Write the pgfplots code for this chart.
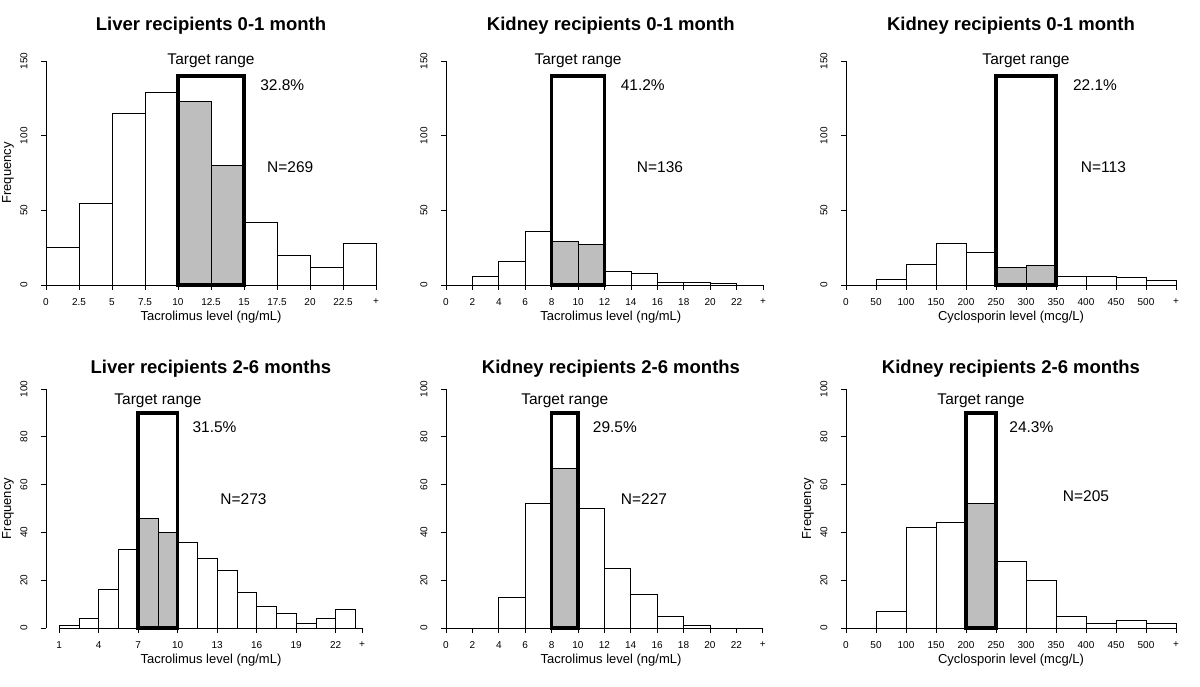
\documentclass[border=0pt]{standalone}
\usepackage{pgfplots}
\pgfplotsset{compat=1.18}
\usepackage{fontspec}
\setmainfont{Liberation Sans}
\definecolor{bargray}{HTML}{BEBEBE}

\tikzset{ann/.style={font=\fontsize{15.5}{18}\selectfont}}
\pgfplotsset{
  hist/.style={
    scale only axis, anchor=south west, clip=false,
    axis lines=left, axis line style={-, line width=0.7pt},
    xmin=0, ymin=0,
    tick align=outside, major tick length=5pt,
    every tick/.style={black, line width=0.7pt},
    tick label style={font=\fontsize{10}{12}\selectfont},
    xticklabel style={anchor=center, yshift=-12pt},
    yticklabel style={anchor=center, xshift=-17pt, rotate=90},
    /pgf/number format/assume math mode=true,
    title style={font=\bfseries\fontsize{18.5}{22}\selectfont, anchor=center},
    label style={font=\fontsize{13}{15}\selectfont},
  },
  toprow/.style={ymax=150, ytick={0,50,100,150}, width=#1, height=224pt,
    title style={at={([yshift=29pt]axis description cs:0.5,1)}}},
  botrow/.style={ymax=100, ytick={0,20,...,100}, width=#1, height=239pt,
    title style={at={([yshift=14pt]axis description cs:0.5,1)}}},
  xlab/.style={xlabel style={at={([yshift=-32pt]axis description cs:#1,0)}, anchor=center}},
  ylab/.style={ylabel style={at={([xshift=-38pt]axis description cs:0,0.5)}, anchor=center, rotate=0}},
  bars/.style={ybar, bar shift=0pt, bar width=#1, draw=black, line width=0.7pt, fill=white},
  tgt/.style={draw=black, line width=3.5pt, line join=miter, mark=none, sharp plot},
}

\begin{document}
\begin{tikzpicture}
\path[use as bounding box] (0,0) rectangle (1200pt,686pt);

% ---- Liver 0-1 month
\begin{axis}[hist, toprow=330pt, at={(46pt,401pt)},
  xmax=25, xtick={0,2.5,...,25},
  xticklabels={0,2.5,5,7.5,10,12.5,15,17.5,20,22.5,+},
  title={Liver recipients 0-1 month},
  xlabel={Tacrolimus level (ng/mL)}, xlab=0.5,
  ylabel={Frequency}, ylab]
\addplot[bars=2.5] coordinates {(1.25,25) (3.75,55) (6.25,115) (8.75,129)
  (16.25,42) (18.75,20) (21.25,12) (23.75,28)};
\addplot[bars=2.5, fill=bargray] coordinates {(11.25,123) (13.75,80)};
\addplot[tgt] coordinates {(10,0) (10,140) (15,140) (15,0)} \closedcycle;
\node[ann] at (axis cs:12.5,150) {Target range};
\node[ann] at (axis cs:17.9,134) {32.8\%};
\node[ann] at (axis cs:18.5,79) {N=269};
\end{axis}

% ---- Kidney 0-1 month, tacrolimus
\begin{axis}[hist, toprow=317pt, at={(446pt,401pt)},
  xmax=24, xtick={0,2,...,24},
  xticklabels={0,2,4,6,8,10,12,14,16,18,20,22,+},
  title style={at={([yshift=29pt]axis description cs:0.52,1)}},
  title={Kidney recipients 0-1 month},
  xlabel={Tacrolimus level (ng/mL)}, xlab=0.52]
\addplot[bars=2] coordinates {(3,6) (5,16) (7,36) (13,9) (15,8) (17,2) (19,2) (21,1)};
\addplot[bars=2, fill=bargray] coordinates {(9,29) (11,27)};
\addplot[tgt] coordinates {(8,0) (8,140) (12,140) (12,0)} \closedcycle;
\node[ann] at (axis cs:10,150) {Target range};
\node[ann] at (axis cs:14.9,134) {41.2\%};
\node[ann] at (axis cs:16.2,79) {N=136};
\end{axis}

% ---- Kidney 0-1 month, cyclosporin
\begin{axis}[hist, toprow=330pt, at={(846pt,401pt)},
  xmax=550, xtick={0,50,...,550},
  xticklabels={0,50,100,150,200,250,300,350,400,450,500,+},
  title={Kidney recipients 0-1 month},
  xlabel={Cyclosporin level (mcg/L)}, xlab=0.5]
\addplot[bars=50] coordinates {(75,4) (125,14) (175,28) (225,22)
  (375,6) (425,6) (475,5) (525,3)};
\addplot[bars=50, fill=bargray] coordinates {(275,12) (325,13)};
\addplot[tgt] coordinates {(250,0) (250,140) (350,140) (350,0)} \closedcycle;
\node[ann] at (axis cs:300,150) {Target range};
\node[ann] at (axis cs:415,134) {22.1\%};
\node[ann] at (axis cs:429,79) {N=113};
\end{axis}

% ---- Liver 2-6 months (x axis line starts at the first tick)
\begin{axis}[hist, botrow=316pt, at={(46pt,58pt)},
  x axis line style={draw=none},
  xmax=24, xtick={1,4,...,22,24},
  xticklabels={1,4,7,10,13,16,19,22,+},
  title style={at={([yshift=14pt]axis description cs:0.522,1)}},
  title={Liver recipients 2-6 months},
  xlabel={Tacrolimus level (ng/mL)}, xlab=0.522,
  ylabel={Frequency}, ylab]
\draw[line width=0.7pt] (axis cs:1,0) -- (axis cs:24,0);
\addplot[bars=1.5] coordinates {(1.75,1) (3.25,4) (4.75,16) (6.25,33)
  (10.75,36) (12.25,29) (13.75,24) (15.25,15) (16.75,9) (18.25,6)
  (19.75,2) (21.25,4) (22.75,8)};
\addplot[bars=1.5, fill=bargray] coordinates {(7.75,46) (9.25,40)};
\addplot[tgt] coordinates {(7,0) (7,90) (10,90) (10,0)} \closedcycle;
\node[ann] at (axis cs:8.5,95) {Target range};
\node[ann] at (axis cs:12.8,84) {31.5\%};
\node[ann] at (axis cs:15.0,54) {N=273};
\end{axis}

% ---- Kidney 2-6 months, tacrolimus
\begin{axis}[hist, botrow=316.7pt, at={(446pt,58pt)},
  xmax=24, xtick={0,2,...,24},
  xticklabels={0,2,4,6,8,10,12,14,16,18,20,22,+},
  title style={at={([yshift=14pt]axis description cs:0.521,1)}},
  title={Kidney recipients 2-6 months},
  xlabel={Tacrolimus level (ng/mL)}, xlab=0.521]
\addplot[bars=2] coordinates {(5,13) (7,52) (11,50) (13,25) (15,14) (17,5) (19,1)};
\addplot[bars=2, fill=bargray] coordinates {(9,67)};
\addplot[tgt] coordinates {(8,0) (8,90) (10,90) (10,0)} \closedcycle;
\node[ann] at (axis cs:9,95) {Target range};
\node[ann] at (axis cs:12.8,84) {29.5\%};
\node[ann] at (axis cs:15.0,54) {N=227};
\end{axis}

% ---- Kidney 2-6 months, cyclosporin
\begin{axis}[hist, botrow=330pt, at={(846pt,58pt)},
  xmax=550, xtick={0,50,...,550},
  xticklabels={0,50,100,150,200,250,300,350,400,450,500,+},
  title={Kidney recipients 2-6 months},
  xlabel={Cyclosporin level (mcg/L)}, xlab=0.5,
  ylabel={Frequency}, ylab]
\addplot[bars=50] coordinates {(75,7) (125,42) (175,44) (275,28) (325,20)
  (375,5) (425,2) (475,3) (525,2)};
\addplot[bars=50, fill=bargray] coordinates {(225,52)};
\addplot[tgt] coordinates {(200,0) (200,90) (250,90) (250,0)} \closedcycle;
\node[ann] at (axis cs:225,95) {Target range};
\node[ann] at (axis cs:309,84) {24.3\%};
\node[ann] at (axis cs:400,55) {N=205};
\end{axis}
\end{tikzpicture}
\end{document}
